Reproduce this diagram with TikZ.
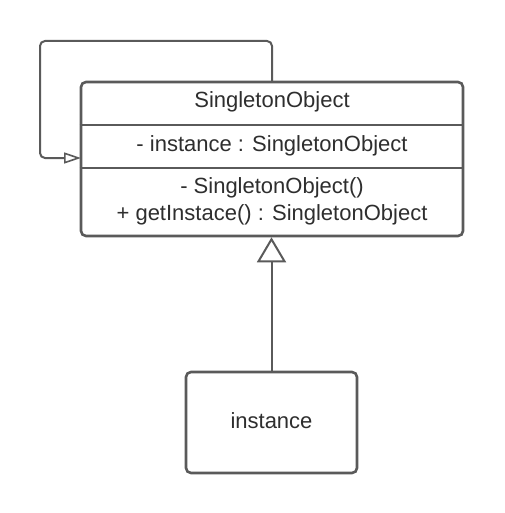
\documentclass[tikz,border=0pt]{standalone}
\usepackage{fontspec}
\setmainfont{Liberation Sans}
\usetikzlibrary{arrows.meta}
\definecolor{edge}{HTML}{5A5A5A}
\definecolor{txt}{HTML}{2E2E2E}
\begin{document}
\begin{tikzpicture}[x=1pt,y=-1pt,
  box/.style={draw=edge,line width=2.6pt,rounded corners=5pt,fill=white,inner sep=0pt},
  divider/.style={draw=edge,line width=2.6pt},
  lbl/.style={text=txt,font=\fontsize{22}{26}\selectfont,inner sep=0pt,anchor=base},
  conn/.style={draw=edge,line width=2pt},
  gen/.style={conn,-{Triangle[open,length=25pt,width=29pt,line width=2pt]}},
  selfref/.style={conn,rounded corners=5pt,-{Triangle[open,length=17pt,width=11pt,line width=1.6pt]}}]
\useasboundingbox (0,0) rectangle (504,513);
\node[box,minimum width=382pt,minimum height=154pt] (cls) at (272,159) {};
\node[box,minimum width=171pt,minimum height=101pt] (inst) at (271.5,422.5) {};
\draw[divider] (cls.west |- 0,125) -- (cls.east |- 0,125);
\draw[divider] (cls.west |- 0,168) -- (cls.east |- 0,168);
\node[lbl] (name) at (272,108) {SingletonObject};
\node[lbl] (attr) at (272,151) {- instance : SingletonObject};
\node[lbl] (m1) at (272,193) {- SingletonObject()};
\node[lbl] (m2) at (272,220) {+ getInstace() : SingletonObject};
\node[lbl] (instlbl) at (271.5,428) {instance};
\coordinate (loopstart) at (272,82);
\coordinate (loopend) at (81,158);
\draw[selfref] (loopstart) -- (272,41) -- (40,41) -- (40,158) -- (loopend);
\draw[gen] (inst.north) -- (cls.south -| inst.north);
\end{tikzpicture}
\end{document}
